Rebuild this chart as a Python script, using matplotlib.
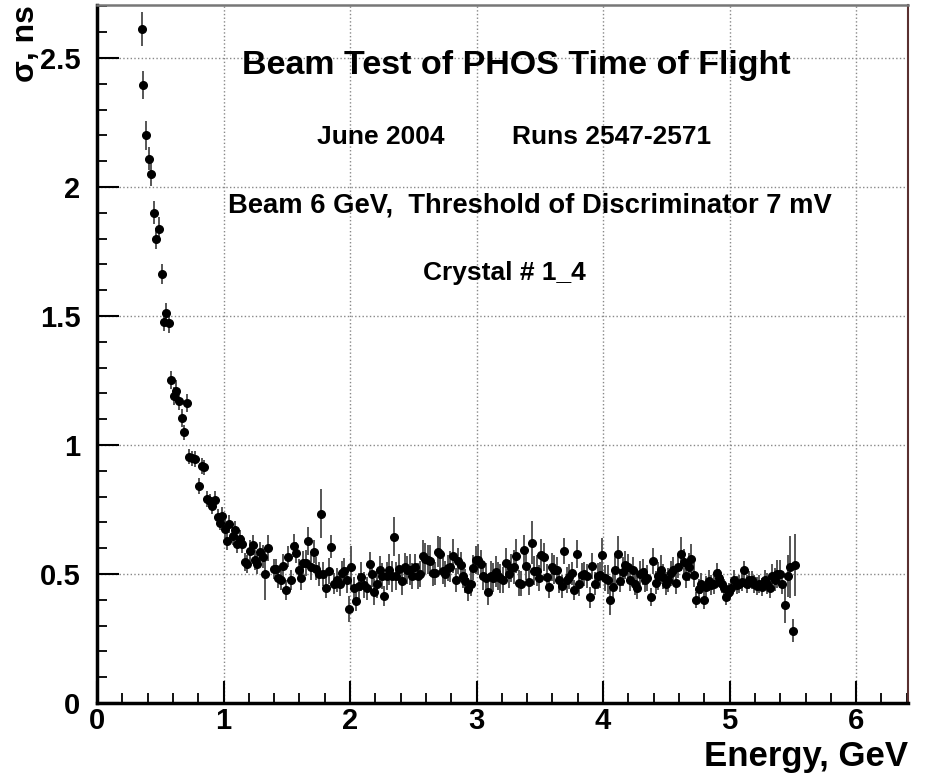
import matplotlib
matplotlib.use("Agg")
import matplotlib.pyplot as plt
from matplotlib.ticker import MultipleLocator

plt.rcParams['font.family'] = ['Liberation Sans Narrow', 'Liberation Sans', 'DejaVu Sans']
plt.rcParams['font.weight'] = 'bold'

# energy (GeV), sigma (ns), error (ns)
energy = [
    0.353, 0.366, 0.388, 0.409, 0.427, 0.451, 0.467, 0.488, 0.512, 0.528,
    0.546, 0.572, 0.585, 0.609, 0.625, 0.651, 0.670, 0.688, 0.709, 0.730,
    0.749, 0.775, 0.809, 0.828, 0.846, 0.873, 0.894, 0.912, 0.933, 0.960,
    0.973, 0.986, 1.013, 1.031, 1.047, 1.073, 1.092, 1.110, 1.131, 1.145,
    1.171, 1.189, 1.210, 1.232, 1.250, 1.268, 1.290, 1.311, 1.330, 1.355,
    1.395, 1.413, 1.434, 1.453, 1.469, 1.493, 1.508, 1.532, 1.553, 1.572,
    1.593, 1.611, 1.627, 1.648, 1.669, 1.690, 1.714, 1.733, 1.751, 1.770,
    1.790, 1.811, 1.833, 1.853, 1.875, 1.896, 1.917, 1.936, 1.954, 1.972,
    1.991, 2.009, 2.031, 2.049, 2.067, 2.089, 2.110, 2.134, 2.154, 2.173,
    2.191, 2.210, 2.233, 2.252, 2.271, 2.292, 2.310, 2.328, 2.347, 2.366,
    2.389, 2.410, 2.431, 2.450, 2.471, 2.492, 2.510, 2.534, 2.556, 2.577,
    2.595, 2.613, 2.634, 2.652, 2.672, 2.695, 2.714, 2.732, 2.750, 2.771,
    2.793, 2.814, 2.835, 2.856, 2.875, 2.893, 2.911, 2.933, 2.953, 2.972,
    2.993, 3.014, 3.032, 3.051, 3.072, 3.091, 3.111, 3.130, 3.151, 3.170,
    3.188, 3.209, 3.233, 3.253, 3.273, 3.294, 3.315, 3.333, 3.352, 3.373,
    3.394, 3.415, 3.436, 3.455, 3.476, 3.494, 3.513, 3.536, 3.555, 3.573,
    3.594, 3.613, 3.634, 3.652, 3.673, 3.695, 3.716, 3.734, 3.752, 3.771,
    3.795, 3.813, 3.834, 3.853, 3.874, 3.895, 3.913, 3.934, 3.956, 3.974,
    3.995, 4.016, 4.037, 4.056, 4.077, 4.096, 4.114, 4.135, 4.154, 4.172,
    4.193, 4.212, 4.233, 4.251, 4.270, 4.290, 4.312, 4.330, 4.349, 4.375,
    4.393, 4.415, 4.433, 4.454, 4.475, 4.496, 4.515, 4.535, 4.554, 4.575,
    4.594, 4.614, 4.636, 4.657, 4.676, 4.697, 4.715, 4.736, 4.755, 4.776,
    4.797, 4.815, 4.836, 4.855, 4.876, 4.897, 4.918, 4.937, 4.955, 4.974,
    4.994, 5.013, 5.034, 5.055, 5.074, 5.095, 5.116, 5.134, 5.156, 5.176,
    5.195, 5.216, 5.235, 5.255, 5.277, 5.298, 5.316, 5.337, 5.358, 5.377,
    5.398, 5.417, 5.435, 5.459, 5.477, 5.498, 5.519,
]
sigma = [
    2.612, 2.395, 2.200, 2.110, 2.050, 1.900, 1.800, 1.837, 1.662, 1.475,
    1.510, 1.474, 1.252, 1.190, 1.210, 1.170, 1.106, 1.049, 1.162, 0.955,
    0.948, 0.946, 0.841, 0.919, 0.913, 0.790, 0.781, 0.764, 0.787, 0.722,
    0.699, 0.725, 0.674, 0.629, 0.694, 0.647, 0.670, 0.616, 0.636, 0.616,
    0.548, 0.539, 0.590, 0.612, 0.554, 0.539, 0.585, 0.567, 0.500, 0.600,
    0.519, 0.519, 0.486, 0.478, 0.531, 0.438, 0.567, 0.477, 0.609, 0.583,
    0.517, 0.483, 0.544, 0.544, 0.628, 0.528, 0.586, 0.521, 0.500, 0.733,
    0.500, 0.447, 0.511, 0.606, 0.463, 0.477, 0.461, 0.502, 0.511, 0.478,
    0.365, 0.528, 0.444, 0.396, 0.452, 0.490, 0.457, 0.444, 0.537, 0.500,
    0.431, 0.463, 0.516, 0.492, 0.415, 0.492, 0.516, 0.492, 0.645, 0.492,
    0.521, 0.474, 0.528, 0.516, 0.517, 0.492, 0.528, 0.492, 0.500, 0.570,
    0.560, 0.556, 0.551, 0.502, 0.502, 0.586, 0.578, 0.513, 0.500, 0.524,
    0.528, 0.570, 0.477, 0.551, 0.535, 0.492, 0.473, 0.440, 0.463, 0.525,
    0.554, 0.556, 0.539, 0.492, 0.486, 0.431, 0.492, 0.486, 0.509, 0.492,
    0.483, 0.478, 0.541, 0.500, 0.524, 0.528, 0.570, 0.466, 0.463, 0.593,
    0.530, 0.470, 0.622, 0.513, 0.513, 0.484, 0.574, 0.567, 0.490, 0.451,
    0.528, 0.517, 0.517, 0.478, 0.453, 0.590, 0.477, 0.490, 0.502, 0.438,
    0.578, 0.460, 0.496, 0.500, 0.492, 0.409, 0.531, 0.463, 0.492, 0.496,
    0.574, 0.486, 0.478, 0.398, 0.451, 0.516, 0.578, 0.474, 0.509, 0.535,
    0.526, 0.478, 0.516, 0.463, 0.447, 0.500, 0.509, 0.477, 0.483, 0.412,
    0.551, 0.466, 0.492, 0.517, 0.490, 0.463, 0.477, 0.502, 0.517, 0.466,
    0.528, 0.578, 0.548, 0.492, 0.528, 0.560, 0.496, 0.400, 0.440, 0.463,
    0.399, 0.451, 0.474, 0.457, 0.463, 0.504, 0.486, 0.463, 0.444, 0.409,
    0.431, 0.447, 0.477, 0.457, 0.463, 0.470, 0.516, 0.463, 0.477, 0.478,
    0.463, 0.453, 0.463, 0.451, 0.477, 0.463, 0.447, 0.492, 0.478, 0.500,
    0.500, 0.463, 0.380, 0.492, 0.528, 0.280, 0.535,
]
sigma_err = [
    0.065, 0.055, 0.055, 0.045, 0.045, 0.045, 0.040, 0.045, 0.040, 0.035,
    0.040, 0.040, 0.035, 0.035, 0.040, 0.035, 0.035, 0.030, 0.035, 0.030,
    0.030, 0.030, 0.030, 0.030, 0.030, 0.030, 0.030, 0.030, 0.035, 0.030,
    0.030, 0.035, 0.035, 0.035, 0.035, 0.035, 0.035, 0.035, 0.035, 0.035,
    0.035, 0.035, 0.040, 0.040, 0.040, 0.040, 0.040, 0.045, 0.100, 0.050,
    0.040, 0.040, 0.040, 0.040, 0.045, 0.040, 0.040, 0.040, 0.045, 0.040,
    0.040, 0.045, 0.045, 0.050, 0.055, 0.050, 0.045, 0.045, 0.045, 0.095,
    0.045, 0.040, 0.050, 0.045, 0.040, 0.045, 0.045, 0.050, 0.050, 0.050,
    0.050, 0.080, 0.045, 0.040, 0.050, 0.055, 0.050, 0.045, 0.050, 0.050,
    0.050, 0.055, 0.055, 0.050, 0.040, 0.055, 0.060, 0.060, 0.075, 0.055,
    0.055, 0.055, 0.055, 0.055, 0.060, 0.050, 0.050, 0.050, 0.050, 0.060,
    0.060, 0.055, 0.060, 0.050, 0.045, 0.060, 0.065, 0.050, 0.050, 0.050,
    0.060, 0.065, 0.045, 0.050, 0.050, 0.045, 0.045, 0.045, 0.050, 0.050,
    0.055, 0.060, 0.055, 0.055, 0.055, 0.050, 0.060, 0.055, 0.060, 0.055,
    0.055, 0.050, 0.060, 0.055, 0.055, 0.065, 0.065, 0.050, 0.050, 0.060,
    0.055, 0.050, 0.085, 0.055, 0.060, 0.050, 0.060, 0.055, 0.050, 0.045,
    0.055, 0.055, 0.050, 0.050, 0.045, 0.050, 0.050, 0.050, 0.045, 0.040,
    0.055, 0.045, 0.045, 0.045, 0.045, 0.040, 0.050, 0.045, 0.050, 0.050,
    0.065, 0.050, 0.055, 0.055, 0.055, 0.055, 0.070, 0.045, 0.055, 0.055,
    0.050, 0.045, 0.050, 0.045, 0.045, 0.050, 0.050, 0.045, 0.050, 0.035,
    0.050, 0.045, 0.055, 0.055, 0.050, 0.045, 0.045, 0.050, 0.050, 0.045,
    0.045, 0.065, 0.050, 0.045, 0.055, 0.055, 0.045, 0.030, 0.040, 0.040,
    0.035, 0.040, 0.040, 0.040, 0.040, 0.040, 0.035, 0.035, 0.035, 0.030,
    0.035, 0.035, 0.040, 0.035, 0.035, 0.035, 0.035, 0.035, 0.035, 0.035,
    0.035, 0.035, 0.035, 0.035, 0.040, 0.040, 0.040, 0.045, 0.045, 0.055,
    0.055, 0.040, 0.070, 0.080, 0.120, 0.045, 0.120,
]
y_ticks = [0, 0.5, 1, 1.5, 2, 2.5]
y_tick_labels = ['0', '0.5', '1', '1.5', '2', '2.5']

fig = plt.figure(figsize=(9.25, 7.82), dpi=100)
ax = fig.add_axes([0.1049, 0.101, 0.8767, 0.8926])

ax.errorbar(energy, sigma, yerr=sigma_err, fmt='o', color='black', ms=5.5,
            ecolor='#555555', elinewidth=1.4, capsize=0, zorder=3)

ax.set_xlim(0, 6.41)
ax.set_ylim(0, 2.705)
ax.xaxis.set_major_locator(MultipleLocator(1))
ax.xaxis.set_minor_locator(MultipleLocator(0.2))
ax.yaxis.set_minor_locator(MultipleLocator(0.1))
ax.set_yticks(y_ticks)
ax.set_yticklabels(y_tick_labels)

ax.grid(True, which='major', linestyle=':', color='#888888', linewidth=1)
ax.set_axisbelow(True)

ax.tick_params(axis='both', which='major', direction='in', length=16, width=1.5,
               labelsize=21, top=False, right=False)
ax.tick_params(axis='both', which='minor', direction='in', length=7, width=1.3,
               top=False, right=False)
ax.tick_params(axis='x', which='major', pad=3)
ax.tick_params(axis='y', which='major', pad=12)

for s in ['left', 'bottom']:
    ax.spines[s].set_linewidth(2.5)
ax.spines['top'].set_color('#777777')
ax.spines['top'].set_linewidth(1.8)
ax.spines['right'].set_color('#5a3030')
ax.spines['right'].set_linewidth(1.5)

ax.text(-0.088, 1.0, 'σ, ns', transform=ax.transAxes, rotation=90,
        ha='center', va='top', fontsize=23, fontweight='bold')
ax.text(1.0, -0.077, 'Energy, GeV', transform=ax.transAxes,
        ha='right', va='center', fontsize=25, fontweight='bold')

ax.text(0.517, 0.914, 'Beam Test of PHOS Time of Flight', transform=ax.transAxes,
        ha='center', va='center', fontsize=24.5, fontweight='bold')
ax.text(0.350, 0.811, 'June 2004', transform=ax.transAxes,
        ha='center', va='center', fontsize=19, fontweight='bold')
ax.text(0.634, 0.811, 'Runs 2547-2571', transform=ax.transAxes,
        ha='center', va='center', fontsize=19, fontweight='bold')
ax.text(0.534, 0.713, 'Beam 6 GeV,  Threshold of Discriminator 7 mV', transform=ax.transAxes,
        ha='center', va='center', fontsize=19.7, fontweight='bold')
ax.text(0.502, 0.616, 'Crystal # 1_4', transform=ax.transAxes,
        ha='center', va='center', fontsize=19, fontweight='bold')

fig.savefig('out.png', dpi=100)
